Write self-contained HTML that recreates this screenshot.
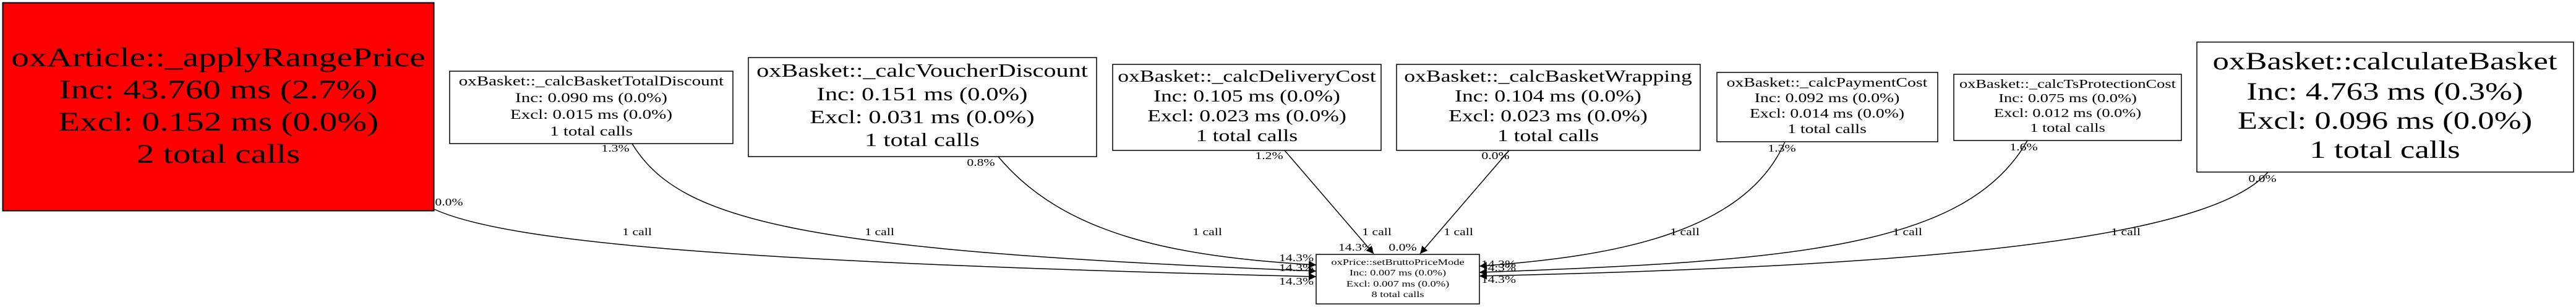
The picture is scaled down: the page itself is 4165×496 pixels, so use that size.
<!DOCTYPE html>
<html><head><meta charset="utf-8"><style>
html,body{margin:0;padding:0;background:#fff;}
svg{display:block;}
text{font-family:"Liberation Serif","Times New Roman",serif;fill:#000;}
</style></head><body>
<svg width="4165" height="496" viewBox="0 0 4165 496" xmlns="http://www.w3.org/2000/svg">
<defs>
<marker id="ah" viewBox="0 0 10 10" refX="10" refY="5" markerWidth="14" markerHeight="12" markerUnits="userSpaceOnUse" orient="auto">
<path d="M0,0 L10,5 L0,10 z" fill="#000"/>
</marker>
</defs>
<rect width="4165" height="496" fill="#fff"/>

<rect x="4.5" y="4.5" width="697" height="336" fill="#ff0000" stroke="#000" stroke-width="2"/>
<g font-size="43.5" text-anchor="middle">
<text transform="translate(353,107) scale(1.32,1)">oxArticle::_applyRangePrice</text>
<text transform="translate(353,159) scale(1.32,1)">Inc: 43.760 ms (2.7%)</text>
<text transform="translate(353,211) scale(1.32,1)">Excl: 0.152 ms (0.0%)</text>
<text transform="translate(353,263) scale(1.32,1)">2 total calls</text>
</g>

<rect x="727" y="115" width="458" height="117" fill="#fff" stroke="#000" stroke-width="1.5"/>
<g font-size="22" text-anchor="middle">
<text transform="translate(956,138) scale(1.32,1)">oxBasket::_calcBasketTotalDiscount</text>
<text transform="translate(956,165) scale(1.32,1)">Inc: 0.090 ms (0.0%)</text>
<text transform="translate(956,192) scale(1.32,1)">Excl: 0.015 ms (0.0%)</text>
<text transform="translate(956,219) scale(1.32,1)">1 total calls</text>
</g>

<rect x="1210" y="93" width="563" height="160" fill="#fff" stroke="#000" stroke-width="1.5"/>
<g font-size="30.5" text-anchor="middle">
<text transform="translate(1491,124) scale(1.32,1)">oxBasket::_calcVoucherDiscount</text>
<text transform="translate(1491,162) scale(1.32,1)">Inc: 0.151 ms (0.0%)</text>
<text transform="translate(1491,199) scale(1.32,1)">Excl: 0.031 ms (0.0%)</text>
<text transform="translate(1491,236) scale(1.32,1)">1 total calls</text>
</g>

<rect x="1799" y="104" width="434" height="139" fill="#fff" stroke="#000" stroke-width="1.5"/>
<g font-size="27" text-anchor="middle">
<text transform="translate(2016,132) scale(1.32,1)">oxBasket::_calcDeliveryCost</text>
<text transform="translate(2016,164) scale(1.32,1)">Inc: 0.105 ms (0.0%)</text>
<text transform="translate(2016,196) scale(1.32,1)">Excl: 0.023 ms (0.0%)</text>
<text transform="translate(2016,228) scale(1.32,1)">1 total calls</text>
</g>

<rect x="2258" y="104" width="491" height="139" fill="#fff" stroke="#000" stroke-width="1.5"/>
<g font-size="27" text-anchor="middle">
<text transform="translate(2503,132) scale(1.32,1)">oxBasket::_calcBasketWrapping</text>
<text transform="translate(2503,164) scale(1.32,1)">Inc: 0.104 ms (0.0%)</text>
<text transform="translate(2503,196) scale(1.32,1)">Excl: 0.023 ms (0.0%)</text>
<text transform="translate(2503,228) scale(1.32,1)">1 total calls</text>
</g>

<rect x="2776" y="117" width="357" height="112" fill="#fff" stroke="#000" stroke-width="1.5"/>
<g font-size="21" text-anchor="middle">
<text transform="translate(2954,140) scale(1.32,1)">oxBasket::_calcPaymentCost</text>
<text transform="translate(2954,165) scale(1.32,1)">Inc: 0.092 ms (0.0%)</text>
<text transform="translate(2954,190) scale(1.32,1)">Excl: 0.014 ms (0.0%)</text>
<text transform="translate(2954,215) scale(1.32,1)">1 total calls</text>
</g>

<rect x="3159" y="120" width="368" height="107" fill="#fff" stroke="#000" stroke-width="1.5"/>
<g font-size="20" text-anchor="middle">
<text transform="translate(3343,142) scale(1.32,1)">oxBasket::_calcTsProtectionCost</text>
<text transform="translate(3343,165) scale(1.32,1)">Inc: 0.075 ms (0.0%)</text>
<text transform="translate(3343,189) scale(1.32,1)">Excl: 0.012 ms (0.0%)</text>
<text transform="translate(3343,213) scale(1.32,1)">1 total calls</text>
</g>

<rect x="3552" y="68" width="609" height="210" fill="#fff" stroke="#000" stroke-width="1.5"/>
<g font-size="40" text-anchor="middle">
<text transform="translate(3856,112) scale(1.32,1)">oxBasket::calculateBasket</text>
<text transform="translate(3856,161) scale(1.32,1)">Inc: 4.763 ms (0.3%)</text>
<text transform="translate(3856,208) scale(1.32,1)">Excl: 0.096 ms (0.0%)</text>
<text transform="translate(3856,255) scale(1.32,1)">1 total calls</text>
</g>

<rect x="2128" y="411" width="264" height="80" fill="#fff" stroke="#000" stroke-width="1.5"/>
<g font-size="14" text-anchor="middle">
<text transform="translate(2260,428) scale(1.32,1)" fill="#333">oxPrice::setBruttoPriceMode</text>
<text transform="translate(2260,445) scale(1.32,1)" fill="#333">Inc: 0.007 ms (0.0%)</text>
<text transform="translate(2260,463) scale(1.32,1)" fill="#333">Excl: 0.007 ms (0.0%)</text>
<text transform="translate(2260,480) scale(1.32,1)" fill="#333">8 total calls</text>
</g>

<g fill="none" stroke="#000" stroke-width="1.5" marker-end="url(#ah)">
<path d="M702,338 C820,392 1200,425 2128,447"/>
<path d="M1022,232 C1100,360 1300,405 2128,438"/>
<path d="M1614,253 C1720,380 1900,415 2128,428"/>
<path d="M2077,243 L2221,410"/>
<path d="M2440,243 L2296,410"/>
<path d="M2886,229 C2820,380 2600,415 2392,430"/>
<path d="M3278,227 C3180,400 2900,422 2392,440"/>
<path d="M3667,278 C3560,400 3000,432 2392,446"/>
</g>

<g font-size="16.5" text-anchor="middle">
<text transform="translate(1030,380) scale(1.32,1)">1 call</text>
<text transform="translate(1422,380) scale(1.32,1)">1 call</text>
<text transform="translate(1952,380) scale(1.32,1)">1 call</text>
<text transform="translate(2226,380) scale(1.32,1)">1 call</text>
<text transform="translate(2358,380) scale(1.32,1)">1 call</text>
<text transform="translate(2724,380) scale(1.32,1)">1 call</text>
<text transform="translate(3084,380) scale(1.32,1)">1 call</text>
<text transform="translate(3437,380) scale(1.32,1)">1 call</text>

<text transform="translate(726,332) scale(1.32,1)">0.0%</text>
<text transform="translate(995,245) scale(1.32,1)">1.3%</text>
<text transform="translate(1586,268) scale(1.32,1)">0.8%</text>
<text transform="translate(2052,257) scale(1.32,1)">1.2%</text>
<text transform="translate(2418,257) scale(1.32,1)">0.0%</text>
<text transform="translate(2881,245) scale(1.32,1)">1.3%</text>
<text transform="translate(3272,243) scale(1.32,1)">1.6%</text>
<text transform="translate(3658,294) scale(1.32,1)">0.0%</text>

<text transform="translate(2192,405) scale(1.32,1)">14.3%</text>
<text transform="translate(2268,405) scale(1.32,1)">0.0%</text>
<text transform="translate(2096,422) scale(1.32,1)">14.3%</text>
<text transform="translate(2096,438) scale(1.32,1)">14.3%</text>
<text transform="translate(2096,460) scale(1.32,1)">14.3%</text>
<text transform="translate(2423,432) scale(1.32,1)">14.3%</text>
<text transform="translate(2423,438) scale(1.32,1)">14.3%</text>
<text transform="translate(2423,457) scale(1.32,1)">14.3%</text>
</g>
</svg>
</body></html>
